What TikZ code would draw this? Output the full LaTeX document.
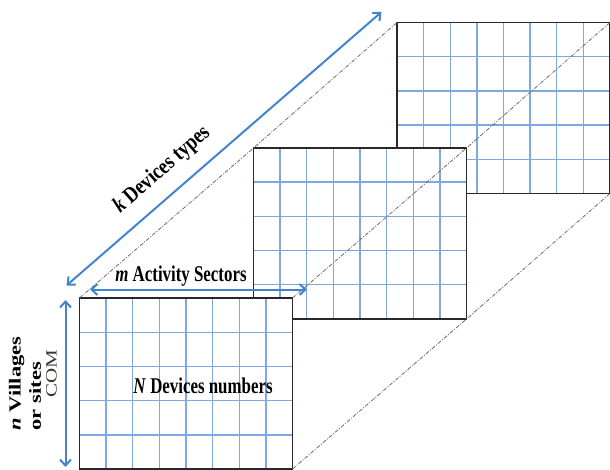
\documentclass[tikz,border=0pt]{standalone}
\usepackage{fontspec}
\setmainfont{Liberation Serif}
\usetikzlibrary{arrows.meta,calc}
\definecolor{arrowblue}{RGB}{68,132,206}
\definecolor{gridblue}{RGB}{128,168,224}
\definecolor{frameblack}{RGB}{40,40,40}
\definecolor{comgray}{RGB}{60,55,50}
\begin{document}
\begin{tikzpicture}[x=1pt,y=-1pt,
  panel/.style={draw=frameblack, line width=1.6pt, fill=white,
    minimum width=213pt, minimum height=171pt, inner sep=0pt, outer sep=0pt,
    anchor=north west,
    path picture={
      \foreach \i in {1,...,7}{\draw[gridblue, line width=1.4pt]
        ($(path picture bounding box.north west)!\i/8!(path picture bounding box.north east)$) --
        ($(path picture bounding box.south west)!\i/8!(path picture bounding box.south east)$);}
      \foreach \j in {1,...,4}{\draw[gridblue, line width=1.4pt]
        ($(path picture bounding box.north west)!\j/5!(path picture bounding box.south west)$) --
        ($(path picture bounding box.north east)!\j/5!(path picture bounding box.south east)$);}
    }},
  dimarrow/.style={arrowblue, line width=2pt,
    {Straight Barb[length=6pt,width=11pt]}-{Straight Barb[length=6pt,width=11pt]}},
  guide/.style={gray!85!black, line width=0.8pt, dash pattern=on 4pt off 1.5pt on 1pt off 1.5pt},
  lbl/.style={font=\fontsize{22.5}{27}\selectfont\bfseries, inner sep=0pt}
]
\useasboundingbox (0,0) rectangle (610,470);

% panels (back to front)
\node[panel] (back) at (397,22.5) {};
\node[panel] (middle) at (253.5,148) {};
\node[panel] (front) at (79.5,298) {};

% dash-dot guides through corresponding corners
\draw[guide] (front.north west) -- (middle.north west) -- (back.north west);
\draw[guide] (front.north east) -- (middle.north east) -- (back.north east);
\draw[guide] (front.south east) -- (middle.south east) -- (back.south east);

% dimension arrows
\coordinate (kA) at (66.5,285.5);
\coordinate (kB) at (381.5,12);
\coordinate (mA) at (90,289.5);
\coordinate (mB) at (307,289.5);
\coordinate (nA) at (65.5,300);
\coordinate (nB) at (65.5,467);
\draw[dimarrow] (kA) -- (kB);
\draw[dimarrow] (mA) -- (mB);
\draw[dimarrow] (nA) -- (nB);

% labels
\node[lbl, rotate=41.2, xscale=0.83] (ktext) at (162,170) {\textit{k} Devices types};
\node[lbl, xscale=0.75] (mtext) at (181,276) {\textit{m} Activity Sectors};
\node[lbl, xscale=0.75] (Ntext) at (203,386) {\textit{N} Devices numbers};
\node[lbl, xscale=0.75, rotate=90, align=left] (ntext) at (25,383.5) {\textit{n} Villages\\or sites};
\node[lbl, font=\fontsize{21}{25}\selectfont, text=comgray, xscale=0.75, rotate=90] (com) at (51.5,374) {COM};
\end{tikzpicture}
\end{document}
